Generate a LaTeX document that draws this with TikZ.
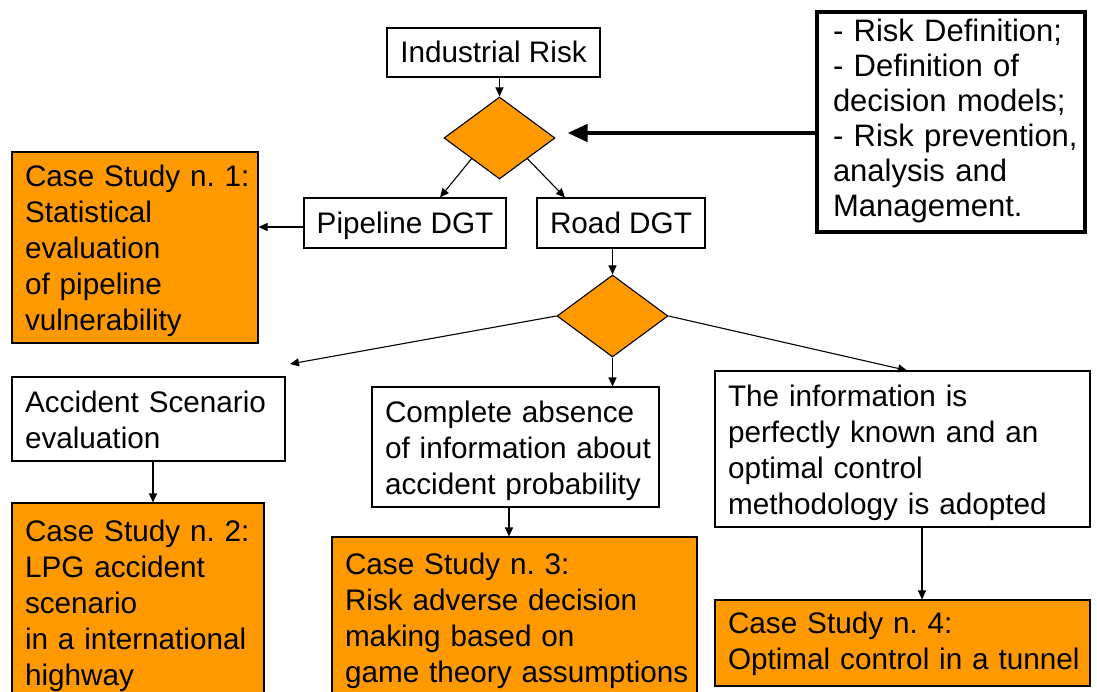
\documentclass[tikz,border=0pt]{standalone}
\usepackage{fontspec}
\setmainfont{Liberation Sans}
\usetikzlibrary{shapes.geometric,arrows.meta}
\definecolor{caseorange}{RGB}{255,153,0}
\frenchspacing
\newcommand\bodyfont{\fontsize{29.7pt}{36pt}\selectfont}
\newcommand\notefont{\fontsize{31pt}{35pt}\selectfont}
% left-aligned block of lines; the optional argument lowers the baselines
\newcommand\boxlines[2][4pt]{%
  \setbox\strutbox\hbox{\vrule height\dimexpr.7\baselineskip+#1\relax
    depth\dimexpr.3\baselineskip-#1\relax width0pt}%
  \begin{tabular}{@{}l@{}}#2\end{tabular}}

\begin{document}
\begin{tikzpicture}[x=1pt,y=-1pt,
  frame/.style={draw=black, line width=1.1pt, rectangle, inner ysep=0pt},
  single/.style={frame, fill=white, inner xsep=0pt, font=\bodyfont,
    text height=21.5pt, text depth=0.5pt},
  textbox/.style={frame, inner xsep=13pt, align=left, font=\bodyfont},
  casebox/.style={textbox, fill=caseorange},
  choice/.style={diamond, draw=black, line width=1.1pt, fill=caseorange,
    inner sep=0pt, minimum width=111pt, minimum height=82pt},
  link/.style={line width=1.1pt, -{Triangle[length=9pt,width=8pt]}},
  bigarrow/.style={line width=4.5pt, -{Triangle[length=20pt,width=17pt]}}]

\useasboundingbox (0,0) rectangle (1097,692);
\clip (0,0) rectangle (1097,692);

% top of the tree
\node[single, minimum width=213pt, minimum height=49pt] (ind) at (493.5,52.5) {Industrial Risk};
\node[choice] (d1) at (499.5,138) {};
\node[single, minimum width=202pt, minimum height=50pt] (pipe) at (405,223) {Pipeline DGT};
\node[single, minimum width=168pt, minimum height=50pt] (road) at (621,223) {Road DGT};

\node[casebox, minimum width=246pt, minimum height=191pt, text width=220pt] (cs1) at (135,247.5)
  {\boxlines{Case Study n. 1:\\Statistical\\evaluation\\of pipeline\\vulnerability}};

\node[textbox, fill=white, line width=4.5pt, font=\notefont, inner xsep=16pt,
      minimum width=268pt, minimum height=220pt, text width=236pt] (note) at (951,122)
  {\boxlines[0pt]{- Risk Definition;\\- Definition of\\decision models;\\- Risk prevention,\\analysis and\\Management.}};

% road branch
\node[choice] (d2) at (612.5,316) {};

\node[textbox, fill=white, minimum width=273pt, minimum height=84pt, text width=247pt] (acc) at (148.5,419)
  {\boxlines{Accident Scenario\\evaluation}};
\node[textbox, fill=white, minimum width=287pt, minimum height=120pt, text width=261pt] (comp) at (515.5,447)
  {\boxlines{Complete absence\\of information about\\accident probability}};
\node[textbox, fill=white, minimum width=375pt, minimum height=156pt, text width=349pt] (info) at (902.5,449)
  {\boxlines{The information is\\perfectly known and an\\optimal control\\methodology is adopted}};

\node[casebox, minimum width=252pt, minimum height=199pt, text width=226pt] (cs2) at (138,602.5)
  {\boxlines{Case Study n. 2:\\LPG accident\\scenario\\in a international\\highway}};
\node[casebox, minimum width=365pt, minimum height=160pt, text width=339pt] (cs3) at (514.5,617)
  {\boxlines{Case Study n. 3:\\Risk adverse decision\\making based on\\game theory assumptions}};
\node[casebox, minimum width=375pt, minimum height=86pt, text width=349pt] (cs4) at (902.5,643)
  {\boxlines[1pt]{Case Study n. 4:\\Optimal control in a tunnel}};

\coordinate (lft) at (290,364);
\coordinate (tip) at ([xshift=12pt,yshift=5pt]d1.east);
\coordinate (p1) at ([yshift=-4pt]pipe.west);
\coordinate (a2) at ([xshift=4.5pt]acc.south);
\coordinate (a3) at ([xshift=-6.5pt]comp.south);
\coordinate (a4) at ([xshift=19.5pt]info.south);

% connectors
\draw[link] (d1.north |- ind.south) -- (d1.north);
\draw[link] (d1.south west) -- ([xshift=35pt]pipe.north);
\draw[link] (d1.south east) -- ([xshift=-56pt]road.north);
\draw[link] (p1) -- (p1 -| cs1.east);
\draw[bigarrow] (note.west |- tip) -- (tip);

\draw[link] (d2.north |- road.south) -- (d2.north);
\draw[link] (d2.south) -- (d2.south |- comp.north);
\draw[link] (d2.west) -- (lft);
\draw[link] (d2.east) -- ([xshift=4.5pt]info.north);

\draw[link] (a2) -- (a2 |- cs2.north);
\draw[link] (a3) -- (a3 |- cs3.north);
\draw[link] (a4) -- (a4 |- cs4.north);
\end{tikzpicture}
\end{document}
